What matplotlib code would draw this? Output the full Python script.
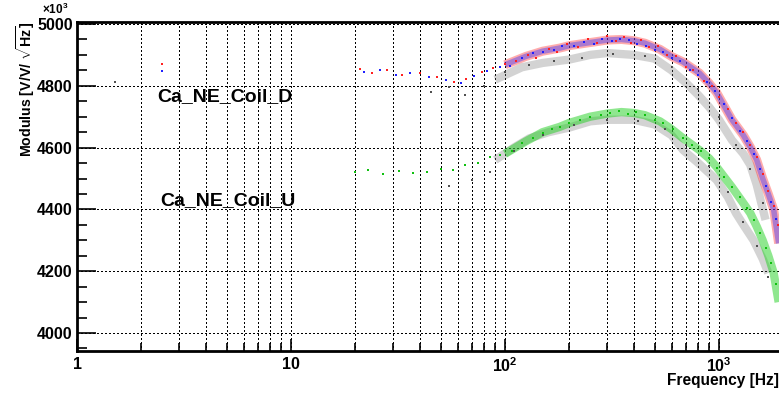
import numpy as np
import matplotlib
matplotlib.use("Agg")
import matplotlib.pyplot as plt
from matplotlib.ticker import FixedLocator, FixedFormatter, NullFormatter

plt.rcParams["font.family"] = ["Liberation Sans", "DejaVu Sans"]
plt.rcParams["font.weight"] = "bold"
plt.rcParams["mathtext.fontset"] = "custom"
plt.rcParams["mathtext.rm"] = "Liberation Sans:bold"
plt.rcParams["mathtext.bf"] = "Liberation Sans:bold"

# band centres (Hz, value)
band_D_f = [20, 25, 30, 40, 50, 60, 70, 80, 100, 125, 150, 180, 200, 250, 300, 350, 400, 450,
            530, 600, 680, 810, 900, 975, 1150, 1300, 1400, 1500, 1600, 1700, 1800, 1900]
band_D_v = [4851, 4848, 4838, 4836, 4825, 4815, 4830, 4850, 4868, 4895, 4912, 4922, 4930, 4940,
            4948, 4950, 4946, 4938, 4918, 4895, 4877, 4841, 4808, 4778, 4690, 4640, 4602, 4560,
            4500, 4450, 4400, 4290]
band_U_f = [20, 25, 30, 40, 50, 60, 70, 80, 100, 125, 150, 180, 200, 250, 300, 350, 400, 450,
            530, 600, 680, 810, 900, 975, 1150, 1300, 1400, 1500, 1600, 1700, 1800, 1900]
band_U_v = [4521, 4524, 4522, 4520, 4530, 4537, 4545, 4560, 4580, 4620, 4650, 4667, 4680, 4700,
            4710, 4715, 4712, 4705, 4685, 4660, 4630, 4592, 4565, 4537, 4472, 4420, 4388, 4345,
            4300, 4250, 4195, 4100]
grey_D_f = [50, 70, 90, 120, 150, 200, 250, 300, 400, 500, 600, 700, 800, 900, 1000, 1150, 1300,
            1400, 1500, 1650]
grey_D_v = [4790, 4785, 4820, 4860, 4874, 4885, 4900, 4906, 4900, 4888, 4850, 4810, 4770, 4731,
            4690, 4624, 4580, 4544, 4480, 4366]
grey_U_f = [50, 60, 75, 90, 110, 130, 160, 200, 250, 300, 400, 500, 600, 680, 800, 975, 1100,
            1200, 1300, 1450, 1600, 1700]
grey_U_v = [4480, 4490, 4500, 4560, 4600, 4630, 4650, 4665, 4685, 4690, 4690, 4675, 4640, 4592,
            4550, 4495, 4440, 4388, 4350, 4300, 4240, 4194]

# individual dots
red_f = [2.5, 21, 24, 28, 33, 40, 48, 58, 66, 78, 88, 100, 112, 128, 140, 160, 175, 195, 220, 245,
         270, 300, 330, 360, 390, 430, 470, 520, 570, 630, 700, 760, 850, 930, 1000, 1100, 1200,
         1300, 1400, 1500, 1600, 1700, 1800, 1880]
red_v = [4870, 4855, 4842, 4850, 4836, 4840, 4830, 4812, 4822, 4845, 4858, 4872, 4880, 4900, 4890,
         4920, 4908, 4935, 4925, 4950, 4938, 4960, 4945, 4958, 4940, 4948, 4925, 4930, 4900, 4895,
         4860, 4850, 4815, 4800, 4765, 4725, 4680, 4650, 4610, 4570, 4515, 4460, 4410, 4350]
blue_f = [2.5, 22, 26, 31, 36, 44, 53, 62, 72, 82, 95, 106, 120, 135, 150, 170, 185, 210, 235, 260,
          285, 315, 345, 380, 415, 455, 500, 550, 600, 660, 730, 800, 880, 960, 1050, 1150, 1250,
          1350, 1450, 1550, 1650, 1750, 1850]
blue_v = [4848, 4845, 4850, 4835, 4842, 4828, 4818, 4808, 4832, 4848, 4860, 4865, 4890, 4905, 4910,
          4915, 4928, 4930, 4942, 4935, 4950, 4945, 4952, 4948, 4935, 4930, 4915, 4908, 4890, 4880,
          4850, 4835, 4812, 4782, 4740, 4695, 4655, 4620, 4580, 4530, 4475, 4425, 4370]
green_f = [20, 23, 27, 32, 37, 43, 50, 57, 65, 75, 85, 95, 108, 120, 135, 150, 165, 180, 200, 225,
           250, 280, 310, 340, 375, 410, 450, 500, 550, 610, 680, 750, 820, 900, 980, 1060, 1150,
           1250, 1350, 1450, 1550, 1650, 1750, 1850]
green_v = [4520, 4528, 4515, 4525, 4518, 4522, 4532, 4528, 4545, 4550, 4568, 4575, 4590, 4615, 4630,
           4648, 4660, 4668, 4678, 4690, 4700, 4705, 4712, 4718, 4710, 4714, 4705, 4690, 4678, 4660,
           4632, 4610, 4590, 4565, 4535, 4505, 4472, 4440, 4405, 4365, 4325, 4275, 4225, 4160]
grey_f = [1.5, 45, 55, 65, 80, 100, 130, 170, 230, 320, 450, 600, 800, 1000, 1200, 1400, 1600,
          55, 70, 85, 110, 150, 210, 300, 420, 560, 700, 900, 1100, 1300, 1500, 1700]
grey_v = [4812, 4780, 4795, 4770, 4800, 4845, 4868, 4880, 4890, 4902, 4895, 4862, 4790, 4700, 4610,
          4530, 4420, 4475, 4495, 4520, 4590, 4640, 4672, 4688, 4685, 4660, 4610, 4540, 4455, 4360,
          4280, 4180]

fig = plt.figure(figsize=(7.79, 3.93), dpi=100)
ax = fig.add_axes([77 / 779, 1 - 351 / 393, 1 - 77 / 779, (351 - 22) / 393])

def band(f, v, color, lw, alpha):
    f = np.asarray(f)
    v = np.asarray(v)
    m = f >= 90
    ax.plot(f[m], v[m], color=color, lw=lw, alpha=alpha, solid_capstyle="butt", zorder=2)

band(grey_D_f, grey_D_v, "#707070", 6, 0.3)
band(grey_U_f, grey_U_v, "#707070", 6, 0.3)
band(band_D_f, band_D_v, "#ff3030", 6.5, 0.4)
band(band_D_f, band_D_v, "#3030ff", 4, 0.4)
band(band_U_f, band_U_v, "#20d020", 6, 0.5)

ax.plot(grey_f, grey_v, "s", color="#505050", ms=1.6, mew=0, zorder=3)
ax.plot(red_f, red_v, "s", color="#ff2020", ms=1.8, mew=0, zorder=3)
ax.plot(blue_f, blue_v, "s", color="#2020ff", ms=1.8, mew=0, zorder=3)
ax.plot(green_f, green_v, "s", color="#10c010", ms=1.8, mew=0, zorder=3)

ax.set_xscale("log")
ax.set_xlim(1, 10 ** ((779 - 77) / 214))
ax.set_ylim(4000 - (351 - 333) / 0.309, 5000 + 2 / 0.309)

major_x = [1, 10, 100, 1000]
minor_x = [m * 10 ** d for d in range(4) for m in range(2, 10) if m * 10 ** d < 1910]
ax.xaxis.set_major_locator(FixedLocator(major_x))
ax.xaxis.set_major_formatter(FixedFormatter(["1", "10", r"$\mathbf{10^{2}}$", r"$\mathbf{10^{3}}$"]))
ax.xaxis.set_minor_locator(FixedLocator(minor_x))
ax.xaxis.set_minor_formatter(NullFormatter())
ax.yaxis.set_major_locator(FixedLocator([4000, 4200, 4400, 4600, 4800, 5000]))
ax.yaxis.set_minor_locator(FixedLocator(list(range(3950, 5001, 50))))

ax.tick_params(axis="both", which="both", direction="in", colors="black", labelsize=11.5, width=1.2)
ax.tick_params(axis="x", which="major", length=8.5, pad=4)
ax.tick_params(axis="x", which="minor", length=5.5)
ax.tick_params(axis="y", which="major", length=14, pad=3)
ax.tick_params(axis="y", which="minor", length=7.5)
for lab in ax.get_xticklabels() + ax.get_yticklabels():
    lab.set_fontweight("bold")

ax.grid(True, which="major", axis="y", color="black", ls=(0, (1, 2.5)), lw=0.8, antialiased=False)
ax.grid(True, which="both", axis="x", color="black", ls=(0, (1, 2.5)), lw=0.8, antialiased=False)
ax.set_axisbelow(True)

for s in ["left", "bottom"]:
    ax.spines[s].set_linewidth(2)
ax.spines["top"].set_linewidth(2)
ax.spines["right"].set_visible(False)

ax.set_ylabel(r"Modulus [V/V/ $\sqrt{\mathbf{Hz}}$]", fontsize=10.2, fontweight="bold")
ax.yaxis.set_label_coords(-0.057, 1.0)
ax.yaxis.label.set_horizontalalignment("right")
ax.set_xlabel("Frequency [Hz]", fontsize=11.2, fontweight="bold")
ax.xaxis.set_label_coords(1.0, -(380 - 351) / 329)
ax.xaxis.label.set_horizontalalignment("right")
ax.xaxis.label.set_verticalalignment("center")

fig.text(42 / 779, 1 - 9 / 393, r"$\times\mathbf{10^{3}}$", fontsize=8.5, va="center", ha="left")

ax.text(2.37, 4764, "Ca_NE_Coil_D", fontsize=14, fontweight="bold", va="center")
ax.text(2.45, 4427, "Ca_NE_Coil_U", fontsize=14, fontweight="bold", va="center")

fig.savefig("out.png", dpi=100)
